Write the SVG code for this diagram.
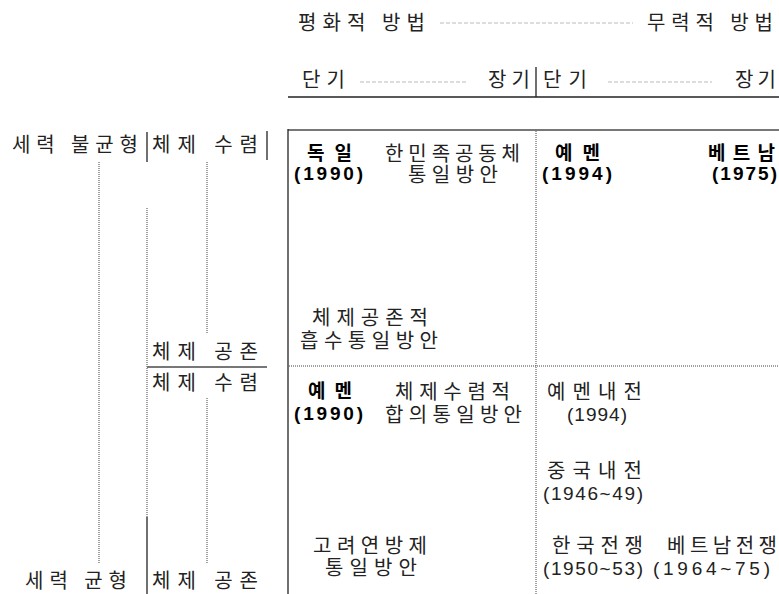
<svg xmlns="http://www.w3.org/2000/svg" width="779" height="594" viewBox="0 0 779 594">
<style>
text{font-family:"Noto Sans CJK KR","Noto Sans",sans-serif;font-size:20px;fill:#222;}
.n{font-family:"Liberation Sans","Noto Sans CJK KR",sans-serif;font-size:19px;}
.b{font-weight:bold;fill:#000;font-size:19px;}
.bn{font-family:"Liberation Sans","Noto Sans CJK KR",sans-serif;font-weight:bold;fill:#000;font-size:19px;}
.dash{stroke:#bbb;stroke-width:1.2;stroke-dasharray:4 2;fill:none;}
.dot{stroke:#444;stroke-width:1;stroke-dasharray:1 1;fill:none;}
.solid{stroke:#222;stroke-width:1.3;fill:none;}
.gray{stroke:#777;stroke-width:2;fill:none;}
</style>
<rect width="779" height="594" fill="#fff"/>
<g id="lines">
  <line class="dash" x1="440" y1="23" x2="633" y2="23"/>
  <line class="dash" x1="360" y1="82" x2="467" y2="82"/>
  <line class="dash" x1="608" y1="82" x2="712" y2="82"/>
  <line class="solid" x1="288" y1="97" x2="779" y2="97"/>
  <line class="solid" x1="536" y1="67" x2="536" y2="97"/>
  <line class="solid" x1="147" y1="132" x2="147" y2="162"/>
  <line class="solid" x1="267" y1="131" x2="267" y2="160"/>
  <line class="gray" x1="288" y1="130" x2="779" y2="130"/>
  <line class="solid" x1="288" y1="129" x2="288" y2="594"/>
  <line class="dot" x1="536" y1="131" x2="536" y2="594"/>
  <line class="dot" x1="289" y1="366" x2="779" y2="366"/>
  <line class="dot" x1="99" y1="162" x2="99" y2="563"/>
  <line class="dot" x1="147" y1="208" x2="147" y2="517"/>
  <line class="solid" x1="147" y1="517" x2="147" y2="594"/>
  <line class="dot" x1="207" y1="162" x2="207" y2="333"/>
  <line class="dot" x1="207" y1="398" x2="207" y2="563"/>
  <line class="gray" x1="147" y1="367" x2="267" y2="367"/>
</g>
<g id="header-method">
  <text x="298" y="30" textLength="127" lengthAdjust="spacing">평화적 방법</text>
  <text x="647" y="30" textLength="126" lengthAdjust="spacing">무력적 방법</text>
</g>
<g id="header-term">
  <text x="302" y="87" textLength="43" lengthAdjust="spacing">단기</text>
  <text x="488" y="87" textLength="42" lengthAdjust="spacing">장기</text>
  <text x="543" y="87" textLength="44" lengthAdjust="spacing">단기</text>
  <text x="735" y="87" textLength="41" lengthAdjust="spacing">장기</text>
</g>
<g id="left-labels">
  <text x="12" y="152" textLength="126" lengthAdjust="spacing">세력 불균형</text>
  <text x="152" y="152" textLength="106" lengthAdjust="spacing">체제 수렴</text>
  <text x="152" y="359" textLength="106" lengthAdjust="spacing">체제 공존</text>
  <text x="152" y="390" textLength="106" lengthAdjust="spacing">체제 수렴</text>
  <text x="25" y="588" textLength="102" lengthAdjust="spacing">세력 균형</text>
  <text x="152" y="588" textLength="106" lengthAdjust="spacing">체제 공존</text>
</g>
<g id="cell-germany">
  <text class="b" x="307" y="160" textLength="45" lengthAdjust="spacing">독일</text>
  <text class="bn" x="294" y="180" textLength="69" lengthAdjust="spacing">(1990)</text>
  <text><tspan x="385" y="161" textLength="135" lengthAdjust="spacing">한민족공동체</tspan><tspan x="408" y="182" textLength="90" lengthAdjust="spacing">통일방안</tspan></text>
</g>
<g id="cell-yemen1994">
  <text class="b" x="555" y="160" textLength="45" lengthAdjust="spacing">예멘</text>
  <text class="bn" x="542" y="180" textLength="70" lengthAdjust="spacing">(1994)</text>
</g>
<g id="cell-vietnam1975">
  <text class="b" x="708" y="160" textLength="67" lengthAdjust="spacing">베트남</text>
  <text class="bn" x="712" y="180" textLength="65" lengthAdjust="spacing">(1975)</text>
</g>
<g id="cell-absorption">
  <text><tspan x="312" y="325" textLength="116" lengthAdjust="spacing">체제공존적</tspan><tspan x="300" y="348" textLength="138" lengthAdjust="spacing">흡수통일방안</tspan></text>
</g>
<g id="cell-yemen1990">
  <text class="b" x="308" y="398" textLength="44" lengthAdjust="spacing">예멘</text>
  <text class="bn" x="294" y="420" textLength="69" lengthAdjust="spacing">(1990)</text>
  <text><tspan x="395" y="399" textLength="115" lengthAdjust="spacing">체제수렴적</tspan><tspan x="385" y="422" textLength="137" lengthAdjust="spacing">합의통일방안</tspan></text>
</g>
<g id="cell-yemen-war">
  <text x="547" y="399" textLength="95" lengthAdjust="spacing">예멘내전</text>
  <text class="n" x="567" y="421" textLength="60" lengthAdjust="spacing">(1994)</text>
</g>
<g id="cell-china-war">
  <text x="547" y="478" textLength="95" lengthAdjust="spacing">중국내전</text>
  <text class="n" x="543" y="500" textLength="100" lengthAdjust="spacing">(1946~49)</text>
</g>
<g id="cell-goryeo">
  <text><tspan x="313" y="553" textLength="114" lengthAdjust="spacing">고려연방제</tspan><tspan x="325" y="575" textLength="92" lengthAdjust="spacing">통일방안</tspan></text>
</g>
<g id="cell-korea-war">
  <text x="552" y="553" textLength="91" lengthAdjust="spacing">한국전쟁</text>
  <text class="n" x="543" y="575" textLength="100" lengthAdjust="spacing">(1950~53)</text>
</g>
<g id="cell-vietnam-war">
  <text x="667" y="553" textLength="110" lengthAdjust="spacing">베트남전쟁</text>
  <text class="n" x="653" y="575" textLength="117" lengthAdjust="spacing">(1964~75)</text>
</g>
</svg>
